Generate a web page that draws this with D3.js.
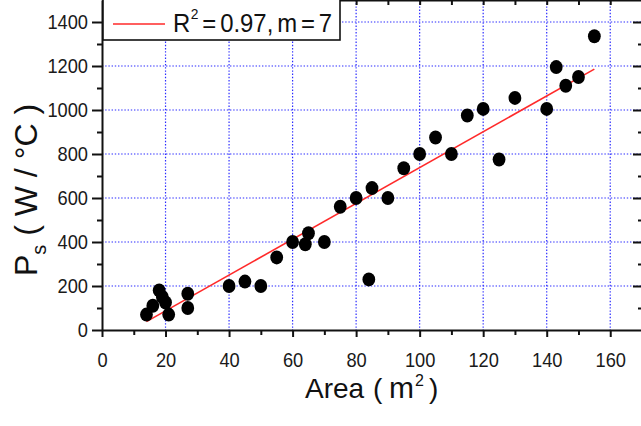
<!DOCTYPE html>
<html>
<head>
<meta charset="utf-8">
<script src="https://cdn.jsdelivr.net/npm/d3@7"></script>
<style>
  body { margin: 0; background: #fff; }
  svg { display: block; font-family: "Liberation Sans", Arial, sans-serif; }
</style>
</head>
<body>
<div id="chart"></div>
<script>
// measured points: area (m2) vs Ps (W/°C)
const areaVals = [14, 16, 18, 19, 20, 21, 27, 27, 40, 45, 50, 55, 60, 64, 65, 70, 75, 80, 84, 85,
                  90, 95, 100, 105, 110, 115, 120, 125, 130, 140, 143, 146, 150, 155];
const psVals   = [70, 110, 180, 150, 125, 70, 165, 100, 200, 220, 200, 330, 400, 390, 440, 400, 560, 600, 230, 645,
                  600, 735, 800, 875, 800, 975, 1005, 775, 1055, 1005, 1195, 1110, 1150, 1335];
// fitted line end points
const fitX = [14, 155];
const fitY = [38, 1186];
const xTicks = d3.range(0, 171, 10);
const yTicks = d3.range(0, 1401, 100);
const legendLabel = ["R", "2", " = 0.97, m = 7"];

const W = 641, H = 426;
const squeeze = 0.87;  // tick text in the original is a bit narrow

const x = d3.scaleLinear().domain([0, 170]).range([102, 642]);
const y = d3.scaleLinear().domain([0, 1500]).range([330, 0]);

const svg = d3.select("#chart").append("svg")
    .attr("width", W).attr("height", H);

// grid
const grid = svg.append("g")
    .attr("stroke", "#2b2bff")
    .attr("stroke-width", 1.2)
    .attr("stroke-dasharray", "1.4,1.8");
grid.selectAll(".gx").data(xTicks.filter(d => d > 0 && d % 20 === 0))
    .join("line")
    .attr("x1", d => x(d)).attr("x2", d => x(d))
    .attr("y1", y(1500)).attr("y2", y(0));
grid.selectAll(".gy").data(yTicks.filter(d => d > 0 && d % 200 === 0))
    .join("line")
    .attr("x1", x(0)).attr("x2", x(170))
    .attr("y1", d => y(d)).attr("y2", d => y(d));

// fit line
svg.append("line")
    .attr("x1", x(fitX[0])).attr("y1", y(fitY[0]))
    .attr("x2", x(fitX[1])).attr("y2", y(fitY[1]))
    .attr("stroke", "#ff2a2a")
    .attr("stroke-width", 1.6);

// points
svg.append("g").selectAll("ellipse")
    .data(areaVals.map((a, i) => ({a: a, p: psVals[i]})))
    .join("ellipse")
    .attr("cx", d => x(d.a))
    .attr("cy", d => y(d.p))
    .attr("rx", 6.4)
    .attr("ry", 7)
    .attr("fill", "#000");

function styleAxis(g, minorLen, isMajor) {
    g.select(".domain").attr("stroke", "#111").attr("stroke-width", 2);
    g.selectAll(".tick line").attr("stroke", "#111").attr("stroke-width", 2);
    g.selectAll(".tick").filter(d => !isMajor(d)).select("line").each(function() {
        const l = d3.select(this);
        if (l.attr("x2") !== null && +l.attr("x2") !== 0) l.attr("x2", minorLen);
        if (l.attr("y2") !== null && +l.attr("y2") !== 0) l.attr("y2", minorLen);
    });
    g.selectAll(".tick text")
        .attr("fill", "#1a1a1a")
        .style("font-size", "21px")
        .style("font-family", "'Liberation Sans', Arial, sans-serif");
}

// bottom axis
const xAxis = svg.append("g")
    .attr("transform", `translate(0,${y(0)})`)
    .call(d3.axisBottom(x).tickValues(xTicks.filter(d => d <= 160)).tickSize(7).tickSizeOuter(0)
        .tickFormat(d => d % 20 === 0 ? d : ""));
styleAxis(xAxis, 5, d => d % 20 === 0);
xAxis.selectAll(".tick text")
    .attr("y", 22).attr("dy", "0.71em")
    .attr("transform", `scale(${squeeze},1)`);

// left axis
const yAxis = svg.append("g")
    .attr("transform", `translate(${x(0)},0)`)
    .call(d3.axisLeft(y).tickValues(yTicks).tickSize(10).tickSizeOuter(0)
        .tickFormat(d => d % 200 === 0 ? d : ""));
styleAxis(yAxis, -5, d => d % 200 === 0);
yAxis.selectAll(".tick text")
    .attr("x", -14 / squeeze)
    .attr("transform", `scale(${squeeze},1)`);

// top axis
const topAxis = svg.append("g")
    .attr("transform", `translate(0,${y(1500)})`)
    .call(d3.axisTop(x).tickValues(xTicks.filter(d => d > 0)).tickSize(-5).tickSizeOuter(0).tickFormat(""));
styleAxis(topAxis, 5, () => true);

// right axis
const rightAxis = svg.append("g")
    .attr("transform", `translate(${x(170)},0)`)
    .call(d3.axisRight(y).tickValues(yTicks.filter(d => d > 0)).tickSize(-9).tickSizeOuter(0).tickFormat(""));
styleAxis(rightAxis, -4, d => d % 200 === 0);

// axis titles
const xt = svg.append("text")
    .attr("y", 398)
    .attr("fill", "#111")
    .style("font-size", "28px");
xt.append("tspan").attr("x", 305).text("Area");
xt.append("tspan").attr("x", 373).text("(");
xt.append("tspan").attr("x", 389).style("font-size", "30px").text("m");
xt.append("tspan").attr("x", 415).attr("y", 386).style("font-size", "16px").text("2");
xt.append("tspan").attr("x", 429).attr("y", 398).text(")");

const yt = svg.append("text")
    .attr("transform", "translate(37,276) rotate(-90)")
    .attr("fill", "#111")
    .style("font-size", "32px");
yt.append("tspan").text("P");
yt.append("tspan").attr("dy", 9).style("font-size", "20px").text("s");
yt.append("tspan").attr("dy", -9).text(" ( W / °C )");

// legend
const leg = svg.append("g");
leg.append("rect")
    .attr("x", 103).attr("y", -1)
    .attr("width", 237).attr("height", 41)
    .attr("fill", "#fff")
    .attr("stroke", "#111")
    .attr("stroke-width", 1.6);
leg.append("line")
    .attr("x1", 113).attr("x2", 165)
    .attr("y1", 24).attr("y2", 24)
    .attr("stroke", "#ff2a2a")
    .attr("stroke-width", 1.6);
const lt = leg.append("g")
    .attr("transform", "translate(173,32) scale(0.92,1)")
    .append("text")
    .attr("fill", "#111")
    .style("font-size", "26px")
    .style("word-spacing", "-3px");
lt.append("tspan").text(legendLabel[0]);
lt.append("tspan").attr("dx", 0.5).attr("dy", -13).style("font-size", "15px").text(legendLabel[1]);
lt.append("tspan").attr("dy", 13).text(legendLabel[2]);
</script>
</body>
</html>
